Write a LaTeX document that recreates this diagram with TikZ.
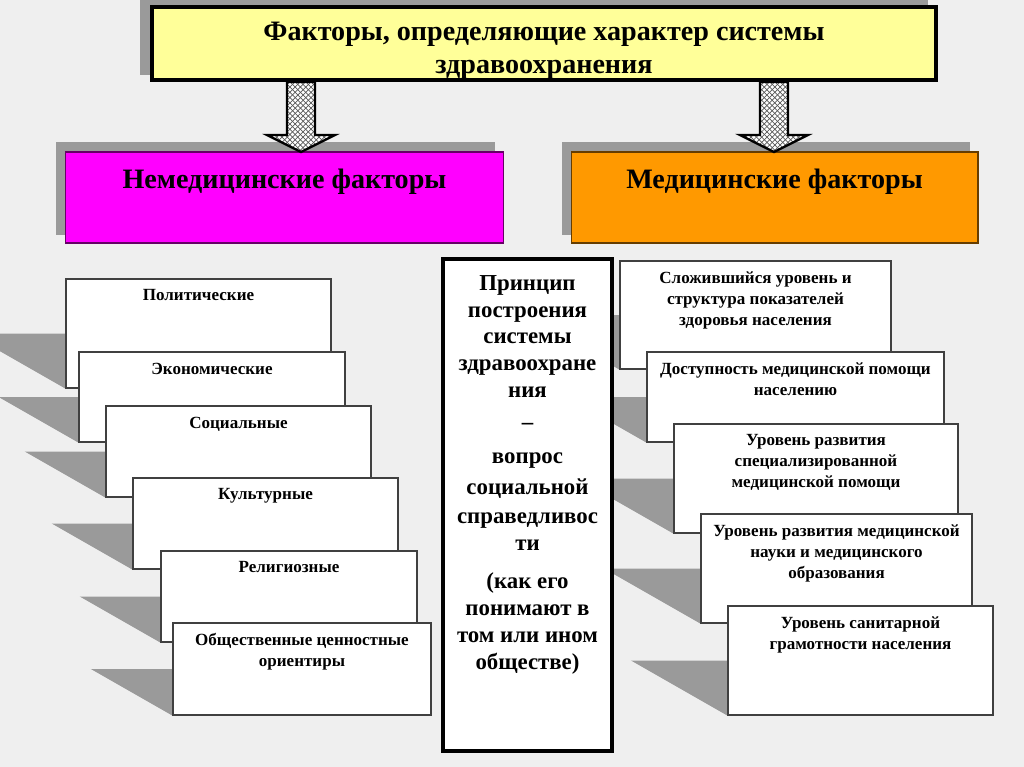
\documentclass[tikz,border=0pt]{standalone}
\usepackage{fontspec}
\setmainfont{Liberation Serif}
\usetikzlibrary{calc,patterns,backgrounds}
\definecolor{bggray}{HTML}{EFEFEF}
\definecolor{shadowgray}{HTML}{9A9A9A}
\definecolor{titleyellow}{HTML}{FFFF99}
\definecolor{nonmedpink}{HTML}{FF00FF}
\definecolor{medorange}{HTML}{FF9900}
\tikzset{
	titlebox/.style={draw=black, line width=2.3pt, fill=titleyellow, minimum width=15.68cm, minimum height=1.46cm},
	groupbox/.style={line width=0.6pt, minimum width=#1, minimum height=1.82cm},
	factorbox/.style={draw=black!75, line width=0.7pt, fill=white},
	centerbox/.style={draw=black, line width=2.5pt, fill=white, minimum width=3.38cm, minimum height=9.84cm},
	boxtext/.style={anchor=north, align=center, inner sep=0pt, font=\bfseries\fontsize{9.7}{11.9}\selectfont, yshift=-0.22cm},
	titletext/.style={anchor=north, align=center, inner sep=0pt, font=\bfseries\fontsize{16}{18.6}\selectfont, yshift=-0.34cm},
	grouptext/.style={titletext, yshift=0cm},
	centertext/.style={anchor=north, align=center, inner sep=0pt, font=\bfseries\fontsize{13}{15.3}\selectfont, yshift=-0.36cm},
	hatcharrow/.style={draw=black, line width=1.3pt, preaction={fill=white}, preaction={pattern=north east lines, pattern color=black!65}, pattern=north west lines, pattern color=black!65}
}
\newcommand{\stackshadow}[1]{\fill[shadowgray] (#1.west) -- ($(#1.west)!1.75!-90:(#1.south west)$) -- (#1.south west) -- cycle;}
\begin{document}
\begin{tikzpicture}[x=0.02cm, y=-0.02cm]
	\useasboundingbox (0,0) rectangle (1024,767);
	\clip (0,0) rectangle (1024,767);
	\begin{scope}[on background layer]
		\fill[bggray] (0,0) rectangle (1024,767);
	\end{scope}

	\node[titlebox, label={[titletext]north:Факторы, определяющие характер системы\\здравоохранения}] (title) at (544,43.5) {};
	\node[groupbox=8.78cm, draw=nonmedpink!40!black, fill=nonmedpink, label={[grouptext]north:Немедицинские факторы}] (nonmed) at (284.5,197.5) {};
	\node[groupbox=8.14cm, draw=medorange!40!black, fill=medorange, label={[grouptext]north:Медицинские факторы}] (med) at (774.5,197.5) {};
	\begin{scope}[on background layer]
		\fill[shadowgray] ($(title.south west)+(-10,-7)$) rectangle ($(title.north east)+(-10,-7)$);
		\fill[shadowgray] ($(nonmed.south west)+(-9,-9)$) rectangle ($(nonmed.north east)+(-9,-9)$);
		\fill[shadowgray] ($(med.south west)+(-9,-9)$) rectangle ($(med.north east)+(-9,-9)$);
	\end{scope}

	\coordinate (tipL) at (301,152);
	\coordinate (tipR) at (774,152);
	\foreach \tip in {tipL,tipR}
		\draw[hatcharrow] (\tip) -- ++(34,-17) -- ++(-20,0) -- ($(\tip |- title.south)+(14,0)$) -- ($(\tip |- title.south)+(-14,0)$) -- ($(\tip)+(-14,-17)$) -- ++(-20,0) -- cycle;

	\node[factorbox, minimum width=5.3cm, minimum height=2.18cm, label={[boxtext]north:Политические}] (polit) at (198.5,333.5) {};
	\node[factorbox, minimum width=5.32cm, minimum height=1.8cm, label={[boxtext]north:Экономические}] (econ) at (212,397) {};
	\node[factorbox, minimum width=5.3cm, minimum height=1.82cm, label={[boxtext]north:Социальные}] (soc) at (238.5,451.5) {};
	\node[factorbox, minimum width=5.3cm, minimum height=1.82cm, label={[boxtext]north:Культурные}] (cult) at (265.5,523.5) {};
	\node[factorbox, minimum width=5.12cm, minimum height=1.82cm, label={[boxtext]north:Религиозные}] (relig) at (289,596.5) {};
	\node[factorbox, minimum width=5.16cm, minimum height=1.84cm, label={[boxtext]north:Общественные ценностные\\ориентиры}] (values) at (302,669) {};

	\node[factorbox, minimum width=5.42cm, minimum height=2.16cm, label={[boxtext]north:Сложившийся уровень и\\структура показателей\\здоровья населения}] (health) at (755.5,315) {};
	\node[factorbox, minimum width=5.94cm, minimum height=1.8cm, label={[boxtext]north:Доступность медицинской помощи\\населению}] (access) at (795.5,397) {};
	\node[factorbox, minimum width=5.68cm, minimum height=2.18cm, label={[boxtext]north:Уровень развития\\специализированной\\медицинской помощи}] (special) at (816,478.5) {};
	\node[factorbox, minimum width=5.42cm, minimum height=2.18cm, label={[boxtext]north:Уровень развития медицинской\\науки и медицинского\\образования}] (science) at (836.5,568.5) {};
	\node[factorbox, minimum width=5.3cm, minimum height=2.18cm, label={[boxtext]north:Уровень санитарной\\грамотности населения}] (literacy) at (860.5,660.5) {};
	\begin{scope}[on background layer]
		\foreach \b in {polit,econ,soc,cult,relig,values,health,access,special,science,literacy}
			{\stackshadow{\b}}
	\end{scope}

	\node[centerbox, label={[centertext]north:Принцип\\построения\\системы\\здравоохране\\ния\\[0.1cm]–\\[0.14cm]вопрос\\[0.08cm]социальной\\[0.04cm]справедливос\\ти\\[0.24cm](как его\\понимают в\\том или ином\\обществе)}] (principle) at (527.5,505) {};
\end{tikzpicture}
\end{document}
